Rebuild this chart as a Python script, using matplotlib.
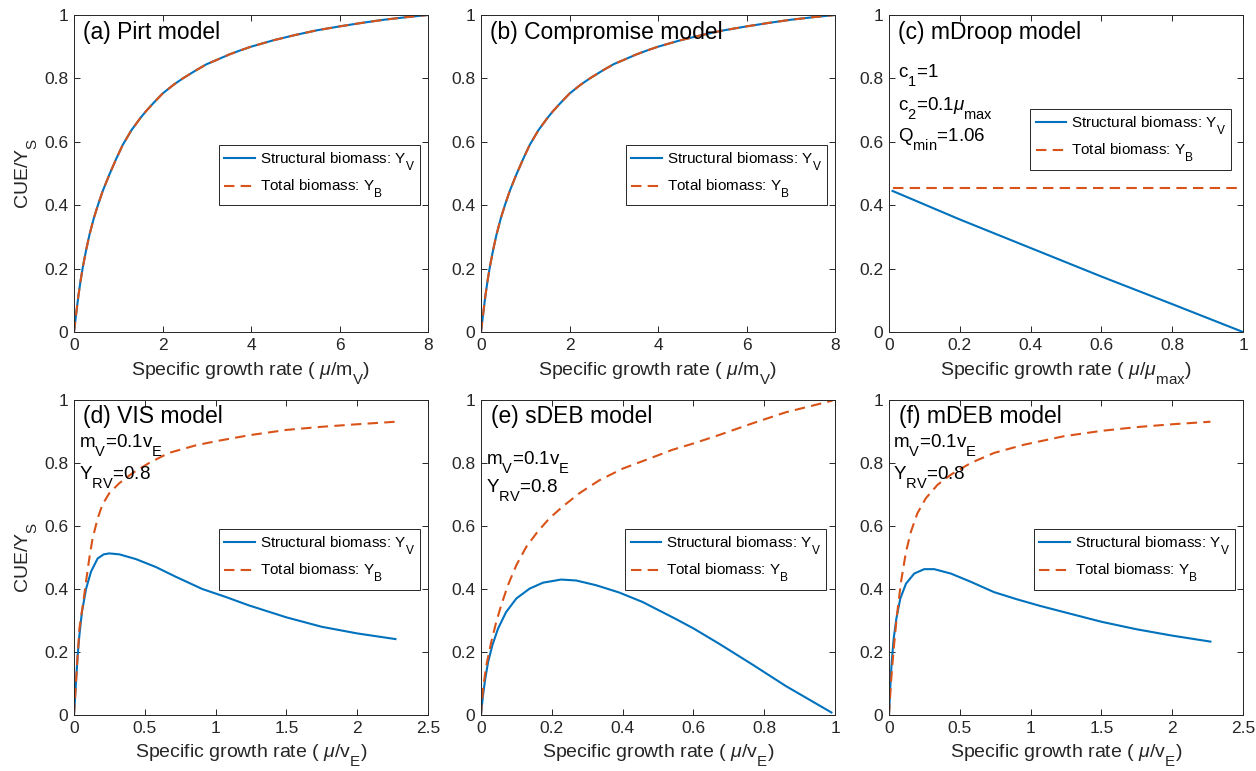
"""
CUE/Y_S vs specific growth rate for six growth models (2x3 panel figure)
"""
import matplotlib
matplotlib.use("Agg")
import matplotlib.pyplot as plt

plt.rcParams["font.family"] = ["Liberation Sans", "DejaVu Sans"]
plt.rcParams["mathtext.fontset"] = "custom"
plt.rcParams["mathtext.rm"] = "Liberation Sans"
plt.rcParams["mathtext.it"] = "Liberation Sans:italic"
plt.rcParams["mathtext.default"] = "regular"

# MATLAB-like subscripts: a bit larger and dropped lower
try:
    from matplotlib import _mathtext
    _mathtext.SHRINK_FACTOR = 0.78
    _mathtext.FontConstantsBase.sub1 = 0.9
except Exception:
    pass

BLUE = "#0072BD"
ORANGE = "#D95319"
DARK = "#262626"

# --- (a) Pirt / (b) Compromise: both curves coincide ---
pirt_x = [0, 0.03, 0.06, 0.1, 0.15, 0.2, 0.27, 0.35, 0.45, 0.54, 0.65, 0.8, 0.95,
          1.1, 1.3, 1.5, 1.63, 1.8, 2.0, 2.25, 2.46, 2.75, 3.0, 3.22, 3.5, 3.75,
          4.0, 4.5, 5.0, 5.5, 6.0, 6.5, 7.0, 7.5, 8.0]
pirt_yv = [0, 0.035, 0.07, 0.115, 0.163, 0.205, 0.256, 0.307, 0.36, 0.40, 0.445,
           0.497, 0.545, 0.59, 0.637, 0.675, 0.697, 0.723, 0.752, 0.78, 0.80, 0.825,
           0.845, 0.858, 0.875, 0.888, 0.90, 0.92, 0.937, 0.952, 0.964, 0.975,
           0.985, 0.993, 1.0]
pirt_yb = pirt_yv

comp_x = pirt_x
comp_yv = pirt_yv
comp_yb = pirt_yv

# --- (c) mDroop ---
droop_x = [0.01, 0.2, 0.4, 0.6, 0.8, 1.0]
droop_yv = [0.445, 0.355, 0.265, 0.175, 0.088, 0.0]
droop_yb = [0.455, 0.455, 0.455, 0.455, 0.455, 0.455]

# --- (d) VIS ---
vis_x = [0, 0.014, 0.026, 0.038, 0.056, 0.085, 0.12, 0.167, 0.21, 0.249, 0.32,
         0.437, 0.577, 0.718, 0.906, 1.07, 1.235, 1.5, 1.75, 2.0, 2.27]
vis_yv = [0, 0.104, 0.19, 0.253, 0.327, 0.40, 0.455, 0.497, 0.51, 0.513, 0.51,
          0.495, 0.47, 0.439, 0.40, 0.375, 0.348, 0.31, 0.28, 0.259, 0.241]
vis_xb = [0, 0.014, 0.026, 0.038, 0.066, 0.085, 0.108, 0.131, 0.167, 0.2, 0.249,
          0.32, 0.413, 0.53, 0.67, 0.86, 1.0, 1.235, 1.5, 1.75, 2.0, 2.27]
vis_yb = [0, 0.104, 0.19, 0.274, 0.36, 0.424, 0.497, 0.56, 0.624, 0.667, 0.704,
          0.736, 0.768, 0.80, 0.832, 0.856, 0.869, 0.888, 0.905, 0.915, 0.923, 0.931]

# --- (e) sDEB ---
sdeb_x = [0, 0.0056, 0.012, 0.02, 0.032, 0.048, 0.071, 0.10, 0.137, 0.175, 0.226,
          0.269, 0.325, 0.39, 0.456, 0.55, 0.6, 0.673, 0.767, 0.861, 0.99]
sdeb_yv = [0, 0.062, 0.115, 0.168, 0.221, 0.274, 0.327, 0.37, 0.401, 0.42, 0.43,
           0.427, 0.412, 0.389, 0.359, 0.305, 0.275, 0.226, 0.16, 0.092, 0.008]
sdeb_xb = [0, 0.0056, 0.015, 0.029, 0.043, 0.057, 0.076, 0.10, 0.128, 0.16, 0.193,
           0.231, 0.278, 0.334, 0.40, 0.485, 0.541, 0.6, 0.673, 0.767, 0.861, 0.993]
sdeb_yb = [0, 0.083, 0.157, 0.232, 0.295, 0.348, 0.412, 0.476, 0.534, 0.582, 0.624,
           0.662, 0.704, 0.745, 0.782, 0.818, 0.842, 0.862, 0.889, 0.926, 0.961, 0.998]

# --- (f) mDEB ---
mdeb_x = [0, 0.0094, 0.019, 0.033, 0.052, 0.08, 0.12, 0.178, 0.249, 0.319, 0.437,
          0.577, 0.742, 0.906, 1.07, 1.25, 1.5, 1.75, 2.0, 2.27]
mdeb_yv = [0, 0.093, 0.168, 0.242, 0.306, 0.37, 0.417, 0.449, 0.463, 0.463, 0.449,
           0.423, 0.39, 0.367, 0.346, 0.325, 0.296, 0.272, 0.252, 0.233]
mdeb_xb = [0, 0.014, 0.033, 0.056, 0.085, 0.12, 0.155, 0.2, 0.26, 0.343, 0.437,
           0.577, 0.742, 0.953, 1.235, 1.5, 1.75, 2.0, 2.27]
mdeb_yb = [0, 0.104, 0.21, 0.317, 0.423, 0.518, 0.582, 0.64, 0.688, 0.731, 0.763,
           0.80, 0.832, 0.858, 0.885, 0.902, 0.914, 0.923, 0.931]

LABEL_V = "Structural biomass: Y$_V$"
LABEL_B = "Total biomass: Y$_B$"
XLAB_MV = r"Specific growth rate ( $\mathit{\mu}$/m$_V$)"
XLAB_MAX = r"Specific growth rate ( $\mathit{\mu}$/$\mathit{\mu}_{max}$)"
XLAB_VE = r"Specific growth rate ( $\mathit{\mu}$/v$_E$)"
DEB_NOTE = ["m$_V$=0.1v$_E$", "Y$_{RV}$=0.8"]

W = 354 / 1256
LEFTS = [74 / 1256, 481 / 1256, 889 / 1256]
ROWS = [(1 - 332 / 771, 317 / 771), (1 - 715 / 771, 315 / 771)]


def style_axes(ax, xmax, xticks, xlabel, ylabel=None):
    ax.set_xlim(0, xmax)
    ax.set_ylim(0, 1)
    ax.set_xticks(xticks)
    ax.set_xticklabels([f"{t:g}" for t in xticks])
    ax.set_yticks([0, 0.2, 0.4, 0.6, 0.8, 1])
    ax.set_yticklabels(["0", "0.2", "0.4", "0.6", "0.8", "1"])
    ax.tick_params(direction="in", length=4, width=0.7, top=True, right=True,
                   labelsize=12.5, colors=DARK, pad=4)
    for sp in ax.spines.values():
        sp.set_color(DARK)
        sp.set_linewidth(0.7)
    ax.set_xlabel(xlabel, fontsize=14, color=DARK, labelpad=5)
    if ylabel:
        ax.set_ylabel(ylabel, fontsize=14, color=DARK, labelpad=4)


def draw(ax, xv, yv, xb, yb, anchor):
    ax.plot(xv, yv, color=BLUE, lw=1.5, label=LABEL_V)
    ax.plot(xb, yb, color=ORANGE, lw=1.5, dashes=(5, 3), label=LABEL_B)
    leg = ax.legend(loc="upper right", bbox_to_anchor=anchor, fontsize=11,
                    fancybox=False, framealpha=1, edgecolor=DARK,
                    handlelength=2.0, handletextpad=0.3, borderpad=0.35,
                    labelspacing=0.35, borderaxespad=0)
    leg.get_frame().set_linewidth(0.7)


fig = plt.figure(figsize=(12.56, 7.71), dpi=100)
axes = [[fig.add_axes([LEFTS[c], ROWS[r][0], W, ROWS[r][1]]) for c in range(3)]
        for r in range(2)]

ax = axes[0][0]
draw(ax, pirt_x, pirt_yv, pirt_x, pirt_yb, (0.977, 0.59))
style_axes(ax, 8, [0, 2, 4, 6, 8], XLAB_MV, "CUE/Y$_S$")
ax.text(0.025, 0.946, "(a) Pirt model", transform=ax.transAxes, fontsize=16.5, va="center")

ax = axes[0][1]
draw(ax, comp_x, comp_yv, comp_x, comp_yb, (0.977, 0.59))
style_axes(ax, 8, [0, 2, 4, 6, 8], XLAB_MV)
ax.text(0.025, 0.946, "(b) Compromise model", transform=ax.transAxes, fontsize=16.5, va="center")

ax = axes[0][2]
draw(ax, droop_x, droop_yv, droop_x, droop_yb, (0.966, 0.703))
style_axes(ax, 1, [0, 0.2, 0.4, 0.6, 0.8, 1], XLAB_MAX)
ax.text(0.025, 0.946, "(c) mDroop model", transform=ax.transAxes, fontsize=16.5, va="center")
for y, s in [(0.81, "c$_1$=1"), (0.707, r"c$_2$=0.1$\mathit{\mu}_{max}$"), (0.61, "Q$_{min}$=1.06")]:
    ax.text(0.025, y, s, transform=ax.transAxes, fontsize=13.5, va="center")

ax = axes[1][0]
draw(ax, vis_x, vis_yv, vis_xb, vis_yb, (0.977, 0.59))
style_axes(ax, 2.5, [0, 0.5, 1, 1.5, 2, 2.5], XLAB_VE, "CUE/Y$_S$")
ax.text(0.025, 0.949, "(d) VIS model", transform=ax.transAxes, fontsize=16.5, va="center")
for y, s in zip([0.857, 0.756], DEB_NOTE):
    ax.text(0.014, y, s, transform=ax.transAxes, fontsize=13.5, va="center")

ax = axes[1][1]
draw(ax, sdeb_x, sdeb_yv, sdeb_xb, sdeb_yb, (0.975, 0.59))
style_axes(ax, 1, [0, 0.2, 0.4, 0.6, 0.8, 1], XLAB_VE)
ax.text(0.028, 0.949, "(e) sDEB model", transform=ax.transAxes, fontsize=16.5, va="center")
for y, s in zip([0.803, 0.714], DEB_NOTE):
    ax.text(0.014, y, s, transform=ax.transAxes, fontsize=13.5, va="center")

ax = axes[1][2]
draw(ax, mdeb_x, mdeb_yv, mdeb_xb, mdeb_yb, (0.977, 0.59))
style_axes(ax, 2.5, [0, 0.5, 1, 1.5, 2, 2.5], XLAB_VE)
ax.text(0.028, 0.949, "(f) mDEB model", transform=ax.transAxes, fontsize=16.5, va="center")
for y, s in zip([0.857, 0.756], DEB_NOTE):
    ax.text(0.011, y, s, transform=ax.transAxes, fontsize=13.5, va="center")

fig.savefig("out.png", dpi=100)
